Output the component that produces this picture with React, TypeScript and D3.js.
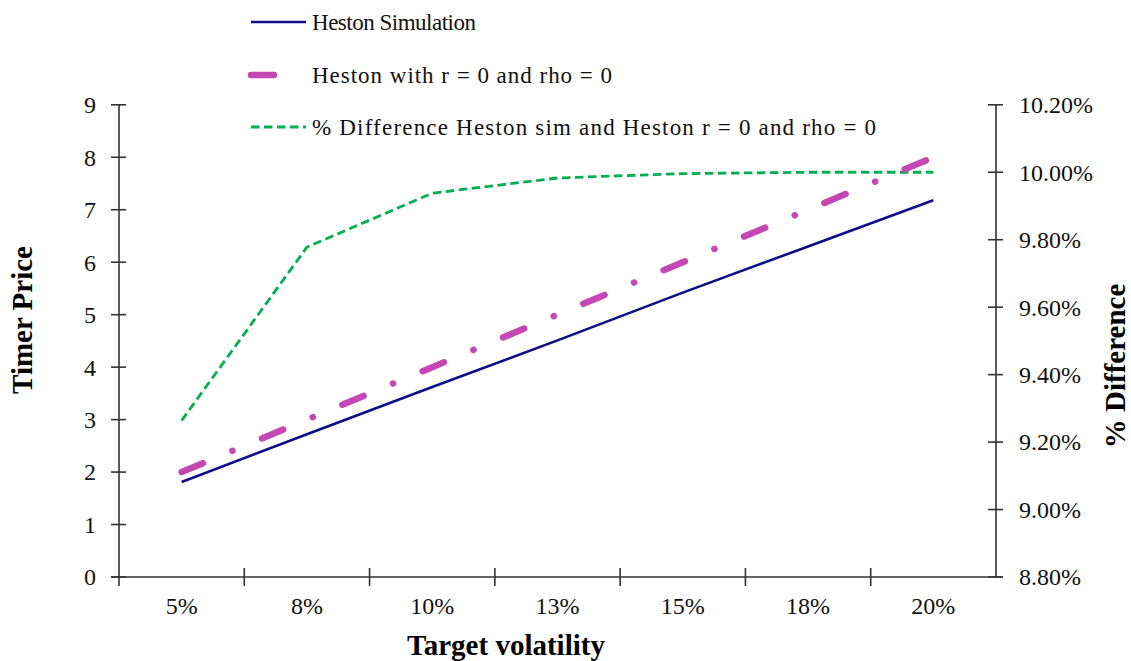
import React from "react";
import * as d3 from "d3";

const categories = ["5%", "8%", "10%", "13%", "15%", "18%", "20%"];
const hestonSim = [1.81, 2.72, 3.62, 4.51, 5.42, 6.3, 7.18];
const hestonZero = [2.0, 3.0, 4.0, 5.0, 6.0, 7.0, 8.0];
const pctDiff = [9.264, 9.778, 9.938, 9.983, 9.996, 10.0, 10.0];
const leftTicks = [0, 1, 2, 3, 4, 5, 6, 7, 8, 9];
const rightTicks = [8.8, 9.0, 9.2, 9.4, 9.6, 9.8, 10.0, 10.2];
const legendLabels = [
  "Heston Simulation",
  "Heston with r = 0 and rho = 0",
  "% Difference Heston sim and Heston r = 0 and rho = 0",
];

const W = 1131;
const H = 661;
const L = 119;
const R = 996;
const T = 104.8;
const B = 577;
const FONT = "'Liberation Serif', 'Times New Roman', serif";
const AXIS = "#333";
const BLUE = "#0d0d8a";
const PINK = "#c447b4";
const GREEN = "#00b050";
const legendWidths = [164, 300, 564];

export default function App() {
  const x = d3.scaleBand<string>().domain(categories).range([L, R]).padding(0);
  const yL = d3.scaleLinear().domain([0, 9]).range([B, T]);
  const yR = d3.scaleLinear().domain([8.8, 10.2]).range([B, T]);
  const cx = (c: string) => (x(c) as number) + x.bandwidth() / 2;

  const lineL = d3
    .line<number>()
    .x((_, i) => cx(categories[i]))
    .y((d) => yL(d));
  const lineR = d3
    .line<number>()
    .x((_, i) => cx(categories[i]))
    .y((d) => yR(d));

  const pinkDash = "23 32 0.1 32";
  const greenDash = "8.5 4.5";

  const legendY = [22, 75, 127];

  return (
    <svg width={W} height={H} style={{ position: "absolute", left: 0, top: 0, background: "#fff" }}>
      <rect x={0} y={0} width={W} height={H} fill="#fff" />
      {/* lines */}
      <path d={lineR(pctDiff) || ""} fill="none" stroke={GREEN} strokeWidth={2.8} strokeDasharray={greenDash} />
      <path d={lineL(hestonSim) || ""} fill="none" stroke={BLUE} strokeWidth={2.6} />
      <path
        d={lineL(hestonZero) || ""}
        fill="none"
        stroke={PINK}
        strokeWidth={6.5}
        strokeLinecap="round"
        strokeDasharray={pinkDash}
      />

      {/* left axis */}
      <line x1={L} x2={L} y1={T} y2={B} stroke={AXIS} strokeWidth={1.6} />
      {leftTicks.map((t) => (
        <g key={"l" + t}>
          <line x1={L - 8} x2={L + 7} y1={yL(t)} y2={yL(t)} stroke={AXIS} strokeWidth={1.6} />
          <text x={96} y={yL(t)} dy="0.35em" textAnchor="end" fontFamily={FONT} fontSize={24} fill="#111">
            {t}
          </text>
        </g>
      ))}

      {/* right axis */}
      <line x1={R} x2={R} y1={T} y2={B} stroke={AXIS} strokeWidth={1.6} />
      {rightTicks.map((t) => (
        <g key={"r" + t}>
          <line x1={R - 8} x2={R + 7} y1={yR(t)} y2={yR(t)} stroke={AXIS} strokeWidth={1.6} />
          <text x={1019} y={yR(t)} dy="0.35em" textAnchor="start" fontFamily={FONT} fontSize={24} fill="#111">
            {t.toFixed(2) + "%"}
          </text>
        </g>
      ))}

      {/* x axis */}
      <line x1={L - 8} x2={R + 7} y1={B} y2={B} stroke={AXIS} strokeWidth={1.6} />
      {categories.map((c, i) => (
        <g key={"x" + c}>
          {i > 0 && (
            <line x1={x(c) as number} x2={x(c) as number} y1={B - 9} y2={B + 9} stroke={AXIS} strokeWidth={1.6} />
          )}
          <text x={cx(c)} y={614} textAnchor="middle" fontFamily={FONT} fontSize={24} fill="#111">
            {c}
          </text>
        </g>
      ))}
      <line x1={L} x2={L} y1={B} y2={B + 9} stroke={AXIS} strokeWidth={1.6} />

      {/* axis titles */}
      <text x={506} y={655} textAnchor="middle" fontFamily={FONT} fontSize={29} fontWeight="bold" fill="#000">
        Target volatility
      </text>
      <text
        transform="translate(32,320) rotate(-90)"
        textAnchor="middle"
        fontFamily={FONT}
        fontSize={29}
        fontWeight="bold"
        fill="#000"
      >
        Timer Price
      </text>
      <text
        transform="translate(1125,366) rotate(-90)"
        textAnchor="middle"
        fontFamily={FONT}
        fontSize={29}
        fontWeight="bold"
        fill="#000"
      >
        % Difference
      </text>

      {/* legend */}
      <line x1={251} x2={306} y1={legendY[0]} y2={legendY[0]} stroke={BLUE} strokeWidth={2.6} />
      <line
        x1={251}
        x2={306}
        y1={legendY[1]}
        y2={legendY[1]}
        stroke={PINK}
        strokeWidth={6.5}
        strokeLinecap="round"
        strokeDasharray={pinkDash}
      />
      <line
        x1={251}
        x2={306}
        y1={legendY[2]}
        y2={legendY[2]}
        stroke={GREEN}
        strokeWidth={2.8}
        strokeDasharray={greenDash}
      />
      {legendLabels.map((lab, i) => (
        <text
          key={lab}
          x={312}
          y={legendY[i]}
          dy="0.35em"
          fontFamily={FONT}
          fontSize={23}
          fill="#111"
          textLength={legendWidths[i]}
          lengthAdjust="spacing"
        >
          {lab}
        </text>
      ))}
    </svg>
  );
}
